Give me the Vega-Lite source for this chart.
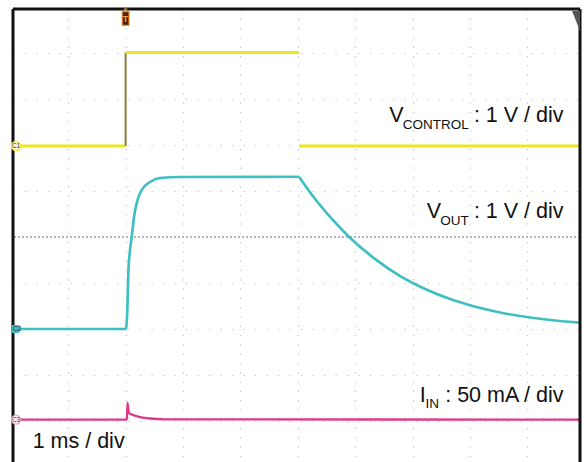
{
  "$schema": "https://vega.github.io/schema/vega-lite/v6.json",
  "width": 567,
  "height": 453,
  "autosize": {"type": "none"},
  "padding": {"left": 13, "top": 9, "right": 4, "bottom": 0},
  "background": "white",
  "config": {"view": {"stroke": null}, "font": "Liberation Sans"},
  "data": {"values": [{}]},
  "datasets": {
    "traces": [
      {"ch": "VCONTROL", "seg": "y1", "t": -1.84, "v": 1.98},
      {"ch": "VCONTROL", "seg": "y1", "t": 0.0, "v": 1.98},
      {"ch": "edge", "seg": "e1", "t": 0.0, "v": 1.98},
      {"ch": "edge", "seg": "e1", "t": 0.0, "v": 4.01},
      {"ch": "VCONTROL", "seg": "y2", "t": 0.0, "v": 4.01},
      {"ch": "VCONTROL", "seg": "y2", "t": 3.021, "v": 4.01},
      {"ch": "VCONTROL", "seg": "y3", "t": 3.021, "v": 1.98},
      {"ch": "VCONTROL", "seg": "y3", "t": 7.916, "v": 1.98},
      {"ch": "VOUT", "seg": "c0", "t": -1.84, "v": -2.0},
      {"ch": "VOUT", "seg": "c0", "t": 0.007, "v": -2.0},
      {"ch": "VOUT", "seg": "c1", "t": 0.007, "v": -2.0},
      {"ch": "VOUT", "seg": "c1", "t": 0.03, "v": -1.587},
      {"ch": "VOUT", "seg": "c1", "t": 0.047, "v": -0.783},
      {"ch": "VOUT", "seg": "c1", "t": 0.077, "v": -0.283},
      {"ch": "VOUT", "seg": "c1", "t": 0.106, "v": 0.0},
      {"ch": "VOUT", "seg": "c1", "t": 0.146, "v": 0.435},
      {"ch": "VOUT", "seg": "c1", "t": 0.193, "v": 0.739},
      {"ch": "VOUT", "seg": "c1", "t": 0.28, "v": 1.022},
      {"ch": "VOUT", "seg": "c1", "t": 0.425, "v": 1.196},
      {"ch": "VOUT", "seg": "c1", "t": 0.599, "v": 1.283},
      {"ch": "VOUT", "seg": "c1", "t": 0.948, "v": 1.304},
      {"ch": "VOUT", "seg": "c1", "t": 3.021, "v": 1.311},
      {"ch": "VOUT", "seg": "c2", "t": 3.021, "v": 1.311},
      {"ch": "VOUT", "seg": "c2", "t": 3.268, "v": 0.88},
      {"ch": "VOUT", "seg": "c2", "t": 3.617, "v": 0.36},
      {"ch": "VOUT", "seg": "c2", "t": 3.895, "v": 0.0},
      {"ch": "VOUT", "seg": "c2", "t": 4.348, "v": -0.48},
      {"ch": "VOUT", "seg": "c2", "t": 4.784, "v": -0.85},
      {"ch": "VOUT", "seg": "c2", "t": 5.219, "v": -1.13},
      {"ch": "VOUT", "seg": "c2", "t": 5.655, "v": -1.35},
      {"ch": "VOUT", "seg": "c2", "t": 6.08, "v": -1.51},
      {"ch": "VOUT", "seg": "c2", "t": 6.523, "v": -1.64},
      {"ch": "VOUT", "seg": "c2", "t": 7.045, "v": -1.75},
      {"ch": "VOUT", "seg": "c2", "t": 7.48, "v": -1.815},
      {"ch": "VOUT", "seg": "c2", "t": 7.916, "v": -1.86},
      {"ch": "IIN", "seg": "m0", "t": -1.84, "v": -3.97},
      {"ch": "IIN", "seg": "m0", "t": 0.024, "v": -3.97},
      {"ch": "IIN", "seg": "m1", "t": 0.024, "v": -3.97},
      {"ch": "IIN", "seg": "m1", "t": 0.03, "v": -3.6},
      {"ch": "IIN", "seg": "m1", "t": 0.059, "v": -3.826},
      {"ch": "IIN", "seg": "m1", "t": 0.129, "v": -3.87},
      {"ch": "IIN", "seg": "m1", "t": 0.251, "v": -3.913},
      {"ch": "IIN", "seg": "m1", "t": 0.425, "v": -3.946},
      {"ch": "IIN", "seg": "m1", "t": 0.686, "v": -3.963},
      {"ch": "IIN", "seg": "m1", "t": 7.916, "v": -3.97}
    ],
    "markers": [
      {"id": "C1", "t": -1.909, "v": 1.98},
      {"id": "C2", "t": -1.892, "v": -2.0},
      {"id": "C3", "t": -1.909, "v": -3.97}
    ]
  },
  "layer": [
    {
      "data": {"name": "traces"},
      "mark": {"type": "line", "opacity": 0},
      "encoding": {
        "x": {"field": "t", "type": "quantitative", "scale": {"domain": [-1.962, 7.916], "nice": false, "zero": false},
          "axis": {"values": [-1, 0, 1, 2, 3, 4, 5, 6, 7], "grid": true, "gridDash": [1.2, 8.1], "gridColor": "#c2c2c2", "gridWidth": 1.2, "labels": false, "ticks": false, "domain": false, "title": null}},
        "y": {"field": "v", "type": "quantitative", "scale": {"domain": [-4.891, 4.957], "nice": false, "zero": false},
          "axis": {"values": [-4, -3, -2, -1, 1, 2, 3, 4], "grid": true, "gridDash": [1.2, 10.3], "gridColor": "#c2c2c2", "gridWidth": 1.2, "labels": false, "ticks": false, "domain": false, "title": null}},
        "detail": {"field": "seg"}
      }
    },
    {
      "mark": {"type": "rule", "color": "#6a6a6a", "strokeDash": [2, 2], "strokeWidth": 1},
      "encoding": {"y": {"datum": 0, "type": "quantitative"}}
    },
    {
      "data": {"name": "traces"},
      "mark": {"type": "line", "interpolate": "monotone", "strokeCap": "butt"},
      "encoding": {
        "x": {"field": "t", "type": "quantitative"},
        "y": {"field": "v", "type": "quantitative"},
        "detail": {"field": "seg"},
        "color": {"field": "ch", "type": "nominal", "legend": null,
          "scale": {"domain": ["VCONTROL", "VOUT", "IIN", "edge"], "range": ["#efe71c", "#3ebfc3", "#e0378b", "#8a8036"]}},
        "strokeWidth": {"field": "ch", "type": "nominal", "legend": null,
          "scale": {"domain": ["VCONTROL", "VOUT", "IIN", "edge"], "range": [3, 2, 3.5, 1.3]}},
        "order": {"field": "t", "type": "quantitative"}
      }
    },
    {
      "mark": {"type": "rule", "color": "#111", "strokeWidth": 3},
      "encoding": {"x": {"datum": -1.962, "type": "quantitative"}}
    },
    {
      "mark": {"type": "rule", "color": "#111", "strokeWidth": 3},
      "encoding": {"x": {"datum": 7.916, "type": "quantitative"}}
    },
    {
      "mark": {"type": "rule", "color": "#111", "strokeWidth": 3},
      "encoding": {"y": {"datum": 4.957, "type": "quantitative"}}
    },
    {
      "data": {"name": "markers"},
      "transform": [{"filter": "datum.id === 'C1'"}],
      "mark": {"type": "point", "shape": "circle", "filled": true, "size": 80, "fill": "#fffbd8", "stroke": "#f2ea40", "strokeWidth": 1.5, "opacity": 1},
      "encoding": {"x": {"field": "t", "type": "quantitative"}, "y": {"field": "v", "type": "quantitative"}}
    },
    {
      "data": {"name": "markers"},
      "transform": [{"filter": "datum.id === 'C2'"}],
      "mark": {"type": "point", "shape": "M-1,-0.8L0.3,-0.8L1,0L0.3,0.8L-1,0.8Z", "filled": true, "size": 100, "fill": "#3ebfc3", "opacity": 1},
      "encoding": {"x": {"field": "t", "type": "quantitative"}, "y": {"field": "v", "type": "quantitative"}}
    },
    {
      "data": {"name": "markers"},
      "transform": [{"filter": "datum.id === 'C3'"}],
      "mark": {"type": "point", "shape": "circle", "filled": true, "size": 80, "fill": "#fff4f8", "stroke": "#f0a6c8", "strokeWidth": 1.3, "opacity": 1},
      "encoding": {"x": {"field": "t", "type": "quantitative"}, "y": {"field": "v", "type": "quantitative"}}
    },
    {
      "data": {"name": "markers"},
      "mark": {"type": "text", "fontSize": 6.5, "color": "#333", "align": "center", "baseline": "middle"},
      "encoding": {"x": {"field": "t", "type": "quantitative"}, "y": {"field": "v", "type": "quantitative"}, "text": {"field": "id"}}
    },
    {
      "mark": {"type": "point", "shape": "M-0.45,-0.9L0.45,-0.9L0.45,0.9L-0.45,0.9Z", "filled": true, "size": 225, "fill": "#4a2600", "stroke": "#f08020", "strokeWidth": 1.2, "opacity": 1},
      "encoding": {"x": {"datum": 0, "type": "quantitative"}, "y": {"datum": 4.75, "type": "quantitative"}}
    },
    {
      "mark": {"type": "point", "shape": "triangle-down", "filled": true, "size": 18, "fill": "#f08020", "opacity": 1},
      "encoding": {"x": {"datum": 0, "type": "quantitative"}, "y": {"datum": 4.93, "type": "quantitative"}}
    },
    {
      "mark": {"type": "text", "text": "T", "fontSize": 9, "fontWeight": "bold", "color": "#f5a050", "align": "center", "baseline": "middle"},
      "encoding": {"x": {"datum": 0, "type": "quantitative"}, "y": {"datum": 4.75, "type": "quantitative"}}
    },
    {
      "mark": {"type": "point", "shape": "M-0.36,-0.91L0.36,-0.91L0.36,0.91Z", "filled": true, "size": 484, "fill": "#555", "opacity": 1},
      "encoding": {"x": {"datum": 7.847, "type": "quantitative"}, "y": {"datum": 4.696, "type": "quantitative"}}
    },
    {
      "mark": {"type": "text", "text": "V", "fontSize": 21.5, "color": "#111", "align": "left", "baseline": "alphabetic"},
      "encoding": {"x": {"datum": 4.594, "type": "quantitative"}, "y": {"datum": 2.493, "type": "quantitative"}}
    },
    {
      "mark": {"type": "text", "text": "CONTROL", "fontSize": 13.5, "color": "#111", "align": "left", "baseline": "alphabetic"},
      "encoding": {"x": {"datum": 4.826, "type": "quantitative"}, "y": {"datum": 2.341, "type": "quantitative"}}
    },
    {
      "mark": {"type": "text", "text": ": 1 V / div", "fontSize": 21.5, "color": "#111", "align": "right", "baseline": "alphabetic"},
      "encoding": {"x": {"datum": 7.629, "type": "quantitative"}, "y": {"datum": 2.493, "type": "quantitative"}}
    },
    {
      "mark": {"type": "text", "text": "V", "fontSize": 21.5, "color": "#111", "align": "left", "baseline": "alphabetic"},
      "encoding": {"x": {"datum": 5.246, "type": "quantitative"}, "y": {"datum": 0.407, "type": "quantitative"}}
    },
    {
      "mark": {"type": "text", "text": "OUT", "fontSize": 13.5, "color": "#111", "align": "left", "baseline": "alphabetic"},
      "encoding": {"x": {"datum": 5.483, "type": "quantitative"}, "y": {"datum": 0.261, "type": "quantitative"}}
    },
    {
      "mark": {"type": "text", "text": ": 1 V / div", "fontSize": 21.5, "color": "#111", "align": "right", "baseline": "alphabetic"},
      "encoding": {"x": {"datum": 7.629, "type": "quantitative"}, "y": {"datum": 0.407, "type": "quantitative"}}
    },
    {
      "mark": {"type": "text", "text": "I", "fontSize": 21.5, "color": "#111", "align": "left", "baseline": "alphabetic"},
      "encoding": {"x": {"datum": 5.124, "type": "quantitative"}, "y": {"datum": -3.593, "type": "quantitative"}}
    },
    {
      "mark": {"type": "text", "text": "IN", "fontSize": 13.5, "color": "#111", "align": "left", "baseline": "alphabetic"},
      "encoding": {"x": {"datum": 5.223, "type": "quantitative"}, "y": {"datum": -3.724, "type": "quantitative"}}
    },
    {
      "mark": {"type": "text", "text": ": 50 mA / div", "fontSize": 21.5, "color": "#111", "align": "right", "baseline": "alphabetic"},
      "encoding": {"x": {"datum": 7.629, "type": "quantitative"}, "y": {"datum": -3.593, "type": "quantitative"}}
    },
    {
      "mark": {"type": "text", "text": "1 ms / div", "fontSize": 21.5, "color": "#111", "align": "left", "baseline": "alphabetic"},
      "encoding": {"x": {"datum": -1.62, "type": "quantitative"}, "y": {"datum": -4.58, "type": "quantitative"}}
    }
  ]
}
